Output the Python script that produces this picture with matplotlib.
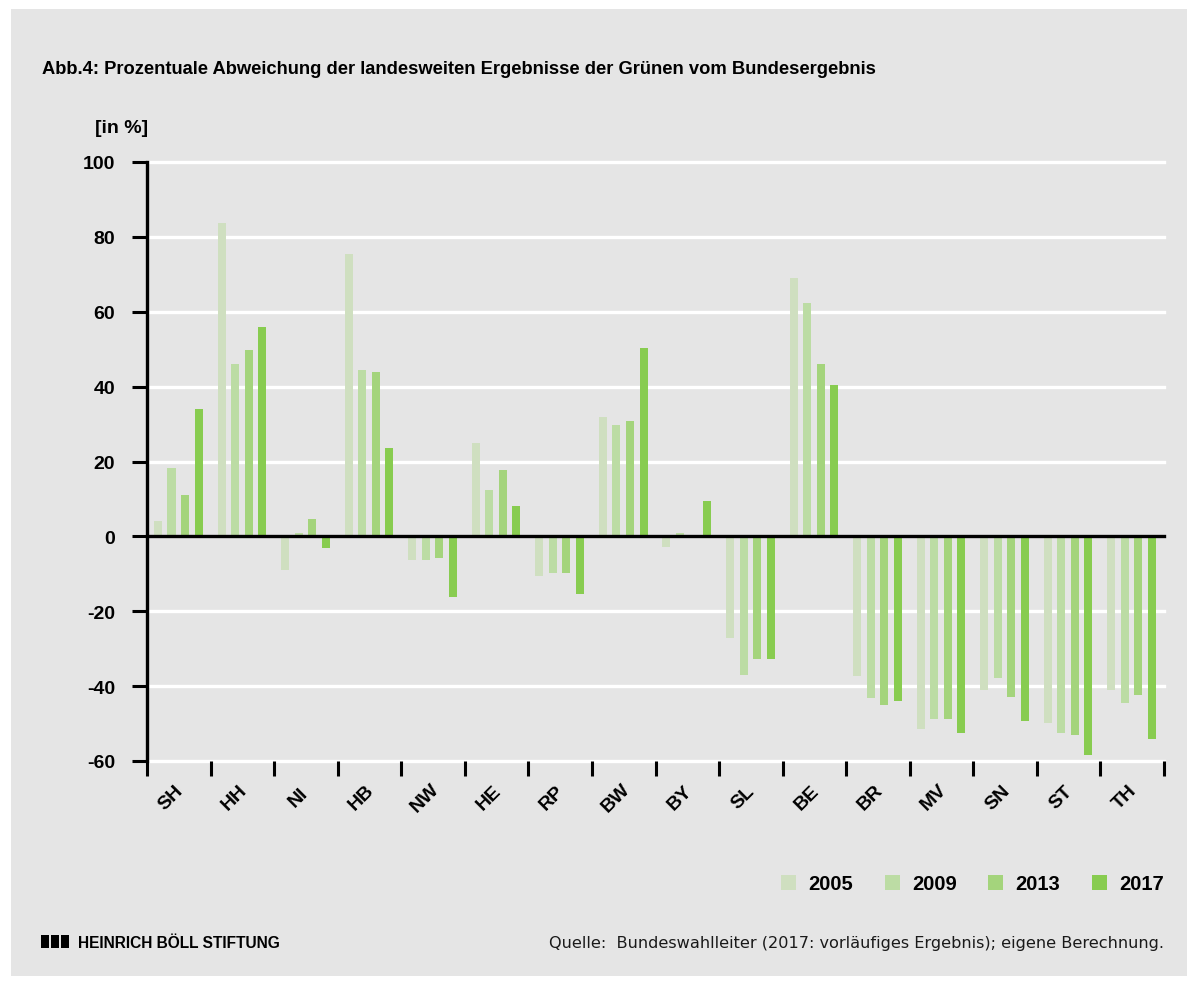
import matplotlib
matplotlib.use("Agg")
import matplotlib.pyplot as plt
import numpy as np
from matplotlib.patches import Rectangle, Patch
import matplotlib.transforms as mtransforms

states = ['SH', 'HH', 'NI', 'HB', 'NW', 'HE', 'RP', 'BW', 'BY', 'SL', 'BE', 'BR', 'MV', 'SN', 'ST', 'TH']
years = ['2005', '2009', '2013', '2017']
v2005 = [4.1, 83.7, -8.9, 75.4, -6.2, 25.0, -10.5, 31.9, -2.8, -27.1, 69.0, -37.2, -51.5, -41.0, -49.9, -41.0]
v2009 = [18.3, 46.1, 1.0, 44.5, -6.2, 12.4, -9.8, 29.8, 1.0, -37.0, 62.3, -43.2, -48.8, -37.9, -52.6, -44.5]
v2013 = [11.1, 49.8, 4.7, 43.9, -5.7, 17.8, -9.8, 30.8, 0.0, -32.8, 46.1, -45.1, -48.8, -43.0, -53.1, -42.4]
v2017 = [34.0, 55.9, -3.0, 23.6, -16.1, 8.1, -15.4, 50.3, 9.5, -32.8, 40.5, -44.0, -52.6, -49.4, -58.4, -54.1]
yticks = [-60, -40, -20, 0, 20, 40, 60, 80, 100]
colors = ['#cfdfc0', '#bcdca4', '#a4d47c', '#88cc50']

BG = '#e5e5e5'
SANS = ['Liberation Sans', 'DejaVu Sans']
DV = ['DejaVu Sans']

W, H = 1197, 987
fig = plt.figure(figsize=(W / 100, H / 100), dpi=100, facecolor='white')
fig.patches.append(Rectangle((11 / W, 1 - 977 / H), (1187 - 11) / W, (977 - 10) / H,
                             transform=fig.transFigure, facecolor=BG, edgecolor='none', zorder=-10))

ax = fig.add_axes([147 / W, 1 - 762 / H, (1164 - 147) / W, (762 - 163) / H])
ax.set_facecolor('none')
ax.set_zorder(2)

x = np.arange(len(states))
series = [v2005, v2009, v2013, v2017]
bw = 0.126
step = 0.213
handles = []
for i, (vals, c) in enumerate(zip(series, colors)):
    ax.bar(x + (i - 1.5) * step - 0.008, vals, width=bw, color=c, zorder=3, label=years[i])
    handles.append(Patch(facecolor=c, edgecolor='none'))

ax.set_xlim(-0.5, len(states) - 0.5)
ax.set_ylim(-60, 100)

for yv in yticks:
    if yv == 0:
        continue
    ax.axhline(yv, color='white', lw=2.4, zorder=1, clip_on=False)
ax.axhline(0, color='black', lw=2.4, zorder=4, clip_on=False)

for s in ['top', 'right', 'bottom']:
    ax.spines[s].set_visible(False)
ax.spines['left'].set_linewidth(2.4)
ax.spines['left'].set_zorder(5)

ax.set_yticks(yticks)
ax.set_yticklabels([str(v) for v in yticks])
ax.tick_params(axis='y', length=11, width=2.2, pad=12, labelsize=14)
for lab in ax.get_yticklabels():
    lab.set_fontweight('bold')
    lab.set_family(SANS)

ax.set_xticks(np.arange(-0.5, len(states), 1.0))
ax.set_xticklabels([])
ax.tick_params(axis='x', length=11, width=2.2, direction='out')

trans = mtransforms.blended_transform_factory(ax.transData, ax.transAxes)
for xi, s in zip(x, states):
    ax.text(xi - 0.12, -36 / 599, s, transform=trans, rotation=45, ha='center', va='center',
            fontsize=14, fontweight='bold', family=SANS)

# title and labels
fig.text(42 / W, 1 - 74 / H, 'Abb.4: Prozentuale Abweichung der landesweiten Ergebnisse der Grünen vom Bundesergebnis',
         ha='left', va='baseline', fontsize=13.2, fontweight='bold', family=SANS)
fig.text(148 / W, 1 - 133 / H, '[in %]', ha='right', va='baseline', fontsize=14,
         fontweight='bold', family=SANS)

# legend
fig.legend(handles, years, loc='center right', bbox_to_anchor=(1164 / W, 1 - 885 / H),
           ncol=4, frameon=False, prop={'weight': 'bold', 'family': SANS, 'size': 14.5},
           handlelength=0.75, handleheight=0.75, handletextpad=0.62, columnspacing=1.55,
           borderpad=0, borderaxespad=0)

# footer
for k in range(3):
    fig.patches.append(Rectangle(((41 + k * 10) / W, 1 - 949 / H), 8 / W, 13 / H,
                                 transform=fig.transFigure, facecolor='black', edgecolor='none'))
fig.text(78 / W, 1 - 948 / H, 'HEINRICH BÖLL STIFTUNG', ha='left', va='baseline', fontsize=11.2,
         fontweight='bold', family=SANS)
fig.text(1164 / W, 1 - 948 / H, 'Quelle:  Bundeswahlleiter (2017: vorläufiges Ergebnis); eigene Berechnung.',
         ha='right', va='baseline', fontsize=11.6, family=DV, color='#1a1a1a')

fig.savefig('out.png', dpi=100, facecolor='white')
